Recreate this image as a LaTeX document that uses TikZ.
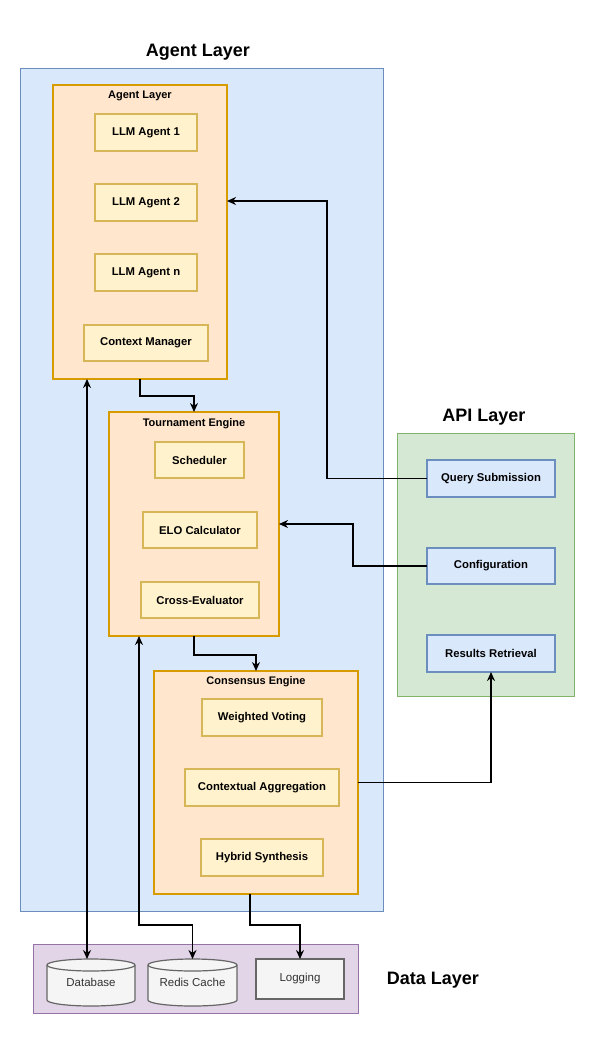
\documentclass[tikz,border=0pt]{standalone}
\usepackage{fontspec}
\setmainfont{Liberation Sans}
\usetikzlibrary{arrows.meta,calc}
\definecolor{blueFill}{HTML}{DAE8FC}
\definecolor{blueStroke}{HTML}{6C8EBF}
\definecolor{orangeFill}{HTML}{FFE6CC}
\definecolor{orangeStroke}{HTML}{D79B00}
\definecolor{yellowFill}{HTML}{FFF2CC}
\definecolor{yellowStroke}{HTML}{D6B656}
\definecolor{greenFill}{HTML}{D5E8D4}
\definecolor{greenStroke}{HTML}{82B366}
\definecolor{purpleFill}{HTML}{E1D5E7}
\definecolor{purpleStroke}{HTML}{9673A6}
\definecolor{grayFill}{HTML}{F5F5F5}
\definecolor{grayStroke}{HTML}{666666}
\definecolor{grayText}{HTML}{333333}
\begin{document}
\begin{tikzpicture}[x=1pt,y=-1pt,
  base/.style={inner sep=0pt, outer sep=0pt, anchor=north west, align=center},
  bluecont/.style={base, draw=blueStroke, fill=blueFill, line width=1pt},
  greencont/.style={base, draw=greenStroke, fill=greenFill, line width=1pt},
  purplecont/.style={base, draw=purpleStroke, fill=purpleFill, line width=1pt},
  orangebox/.style={base, draw=orangeStroke, fill=orangeFill, line width=1.2pt},
  itembox/.style={base, draw=yellowStroke, fill=yellowFill, line width=1.2pt, font=\fontsize{11.3}{13}\selectfont\bfseries},
  apibox/.style={base, draw=blueStroke, fill=blueFill, line width=1.2pt, font=\fontsize{11.3}{13}\selectfont\bfseries},
  graybox/.style={base, draw=grayStroke, fill=grayFill, line width=1.2pt, font=\fontsize{11.5}{13}\selectfont, text=grayText},
  cyllabel/.style={base, font=\fontsize{11.5}{13}\selectfont, text=grayText},
  cylpath/.style={draw=grayStroke, fill=grayFill, line width=1.2pt},
  title/.style={inner sep=0pt, font=\fontsize{18}{22}\selectfont\bfseries},
  sublabel/.style={inner sep=0pt, font=\fontsize{11}{13}\selectfont\bfseries},
  conn/.style={draw=black, line width=1.4pt, -{Stealth[length=9pt,width=8pt]}},
  conn2/.style={draw=black, line width=1.4pt, {Stealth[length=9pt,width=8pt]}-{Stealth[length=9pt,width=8pt]}}
]
\useasboundingbox (0,0) rectangle (595,1050);
\fill[white] (0,0) rectangle (595,1050);

% Titles
\node[title] (tAgent) at (198,52) {Agent Layer};
\node[title] (tApi) at (484,417) {API Layer};
\node[title] (tData) at (433,980) {Data Layer};

% Containers
\node[bluecont, minimum width=363, minimum height=843] (agentlayer) at (20,68) {};
\node[greencont, minimum width=177, minimum height=263] (apilayer) at (397,433) {};
\node[purplecont, minimum width=325, minimum height=69] (datalayer) at (33,944) {};

% Agent group
\node[orangebox, minimum width=174, minimum height=294] (agent) at (53,85) {};
\node[sublabel] (agentlbl) at (140,96) {Agent Layer};
\node[itembox, minimum width=102, minimum height=37] (llm1) at (95,114) {LLM Agent 1};
\node[itembox, minimum width=102, minimum height=37] (llm2) at (95,184) {LLM Agent 2};
\node[itembox, minimum width=102, minimum height=37] (llmn) at (95,254) {LLM Agent n};
\node[itembox, minimum width=124, minimum height=36] (ctx) at (84,325) {Context Manager};

% Tournament engine
\node[orangebox, minimum width=170, minimum height=224] (tour) at (109,412) {};
\node[sublabel] (tourlbl) at (194,424) {Tournament Engine};
\node[itembox, minimum width=89, minimum height=36] (sched) at (155,442) {Scheduler};
\node[itembox, minimum width=114, minimum height=36] (elo) at (143,512) {ELO Calculator};
\node[itembox, minimum width=118, minimum height=36] (cross) at (141,582) {Cross-Evaluator};

% Consensus engine
\node[orangebox, minimum width=204, minimum height=223] (cons) at (154,671) {};
\node[sublabel] (conslbl) at (256,682) {Consensus Engine};
\node[itembox, minimum width=120, minimum height=37] (wv) at (202,699) {Weighted Voting};
\node[itembox, minimum width=154, minimum height=37] (ca) at (185,769) {Contextual Aggregation};
\node[itembox, minimum width=122, minimum height=37] (hs) at (201,839) {Hybrid Synthesis};

% API boxes
\node[apibox, minimum width=128, minimum height=37] (query) at (427,460) {Query Submission};
\node[apibox, minimum width=128, minimum height=36] (config) at (427,548) {Configuration};
\node[apibox, minimum width=128, minimum height=37] (results) at (427,635) {Results Retrieval};

% Data layer items
\path[cylpath] (47,965) arc[start angle=180, end angle=0, x radius=44pt, y radius=6pt]
  -- (135,1000) arc[start angle=0, end angle=-180, x radius=44pt, y radius=6pt] -- cycle;
\draw[draw=grayStroke, line width=1.2pt] (47,965) arc[start angle=180, end angle=360, x radius=44pt, y radius=6pt];
\node[cyllabel, minimum width=88, minimum height=47] (db) at (47,959) {\raisebox{-6pt}{Database}};

\path[cylpath] (148,965) arc[start angle=180, end angle=0, x radius=44.5pt, y radius=6pt]
  -- (237,1000) arc[start angle=0, end angle=-180, x radius=44.5pt, y radius=6pt] -- cycle;
\draw[draw=grayStroke, line width=1.2pt] (148,965) arc[start angle=180, end angle=360, x radius=44.5pt, y radius=6pt];
\node[cyllabel, minimum width=89, minimum height=47] (redis) at (148,959) {\raisebox{-6pt}{Redis Cache}};

\node[graybox, minimum width=88, minimum height=40] (log) at (256,959) {\raisebox{2pt}{Logging}};

% Connectors
\draw[conn] (agent.south) -- ++(0,17) -| (tour.north);
\draw[conn] (query.west) -- ++(-100,0) |- ($(agent.north east)+(0,116)$);
\draw[conn] (config.west) -- ++(-74,0) |- (tour.east);
\draw[conn] (tour.south) -- ++(0,19) -| (cons.north);
\draw[conn] (cons.east) -| (results.south);
\draw[conn2] ($(agent.south west)+(34,0)$) coordinate (dbtop) -- (dbtop |- db.north);
\draw[conn2] ($(tour.south west)+(30,0)$) -- ++(0,289) -| (redis.north);
\draw[conn] ($(cons.south)+(-6,0)$) -- ++(0,31) -| (log.north);
\end{tikzpicture}
\end{document}
